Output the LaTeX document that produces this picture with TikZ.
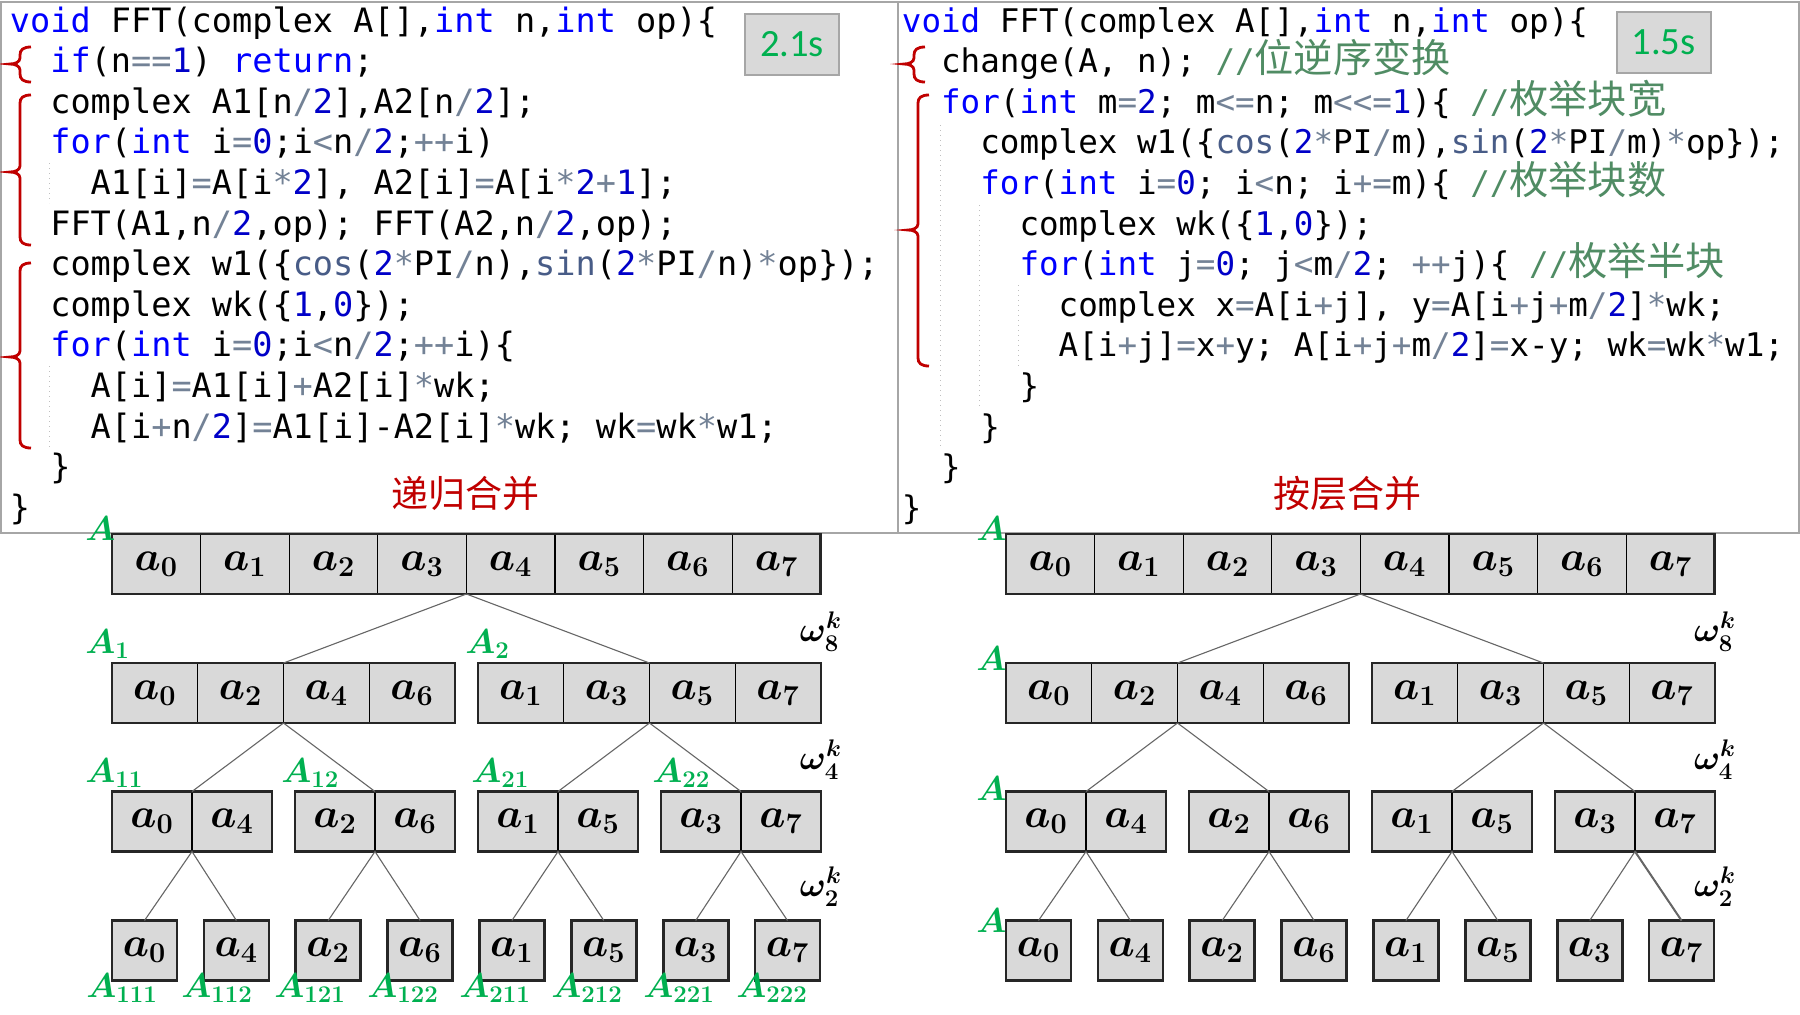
\documentclass[tikz,border=0pt]{standalone}
\usepackage{fontspec}
\setmonofont{DejaVu Sans Mono}
\newfontfamily\cjk{Noto Sans CJK SC}
\newfontfamily\calib{Carlito}
\definecolor{kw}{RGB}{0,0,255}
\definecolor{num}{RGB}{0,0,200}
\definecolor{op}{RGB}{115,130,150}
\definecolor{fn}{RGB}{72,92,135}
\definecolor{cmt}{RGB}{80,140,100}
\definecolor{brk}{RGB}{192,0,0}
\definecolor{ttlred}{RGB}{192,0,0}
\definecolor{grn}{RGB}{0,176,80}
\definecolor{cellg}{RGB}{217,217,217}
\newcommand\Kw[1]{\textcolor{kw}{#1}}
\newcommand\Nm[1]{\textcolor{num}{#1}}
\newcommand\Op[1]{\textcolor{op}{#1}}
\newcommand\Fn[1]{\textcolor{fn}{#1}}
\newcommand\Cmt[1]{\textcolor{cmt}{#1}}
\newcommand\cjkc{\cjk\fontsize{19.6}{20}\selectfont}
\newcommand\offbrace[4]{% x, top, mid, bottom
  \draw[brc] ({#1+11},#2) .. controls ({#1+3},#2) and (#1,{#2+3}) .. (#1,{#2+8})
    -- (#1,{#3-6}) .. controls (#1,{#3-2}) and ({#1-5},#3) .. ({#1-10},#3)
    .. controls ({#1-5},#3) and (#1,{#3+2}) .. (#1,{#3+6})
    -- (#1,{#4-8}) .. controls (#1,{#4-3}) and ({#1+3},#4) .. ({#1+11},#4);}
\tikzset{
 cell/.style={draw=black, line width=0.6pt, fill=cellg, inner sep=0pt, outer sep=0pt,
   minimum height=30pt, font=\boldmath\fontsize{20}{24}\selectfont},
 outb/.style={draw=black!85, line width=1.4pt},
 conn/.style={draw=black!60, line width=0.55pt},
 glab/.style={text=grn, inner sep=0pt, anchor=base west, font=\boldmath\fontsize{17.28}{20}\selectfont},
 omlab/.style={inner sep=0pt, font=\boldmath\fontsize{17.28}{20}\selectfont},
 codel/.style={anchor=base west, inner sep=0pt, font=\ttfamily\fontsize{16.78}{20}\selectfont},
 coder/.style={anchor=base west, inner sep=0pt, font=\ttfamily\fontsize{16.28}{20}\selectfont},
 brc/.style={draw=brk, line width=1.4pt},
 guide/.style={draw=black!25, line width=0.5pt, dotted},
 timebox/.style={draw=black!35, line width=1pt, fill=cellg, minimum width=47pt,
   minimum height=30.5pt, text=grn, font=\calib\fontsize{19.3}{22}\selectfont, inner sep=0pt},
 ttl/.style={text=ttlred, font=\cjk\fontsize{18.5}{22}\selectfont, inner sep=0pt},
 panel/.style={draw=black!35, line width=1pt}
}
\begin{document}
\begin{tikzpicture}[x=0.5pt,y=-0.5pt]
\useasboundingbox (0,0) rectangle (1800,1014);
\fill[white] (0,0) rectangle (1800,1014);
% panels
\draw[panel] (1,1.5) rectangle (898,533);
\draw[panel] (898,1.5) rectangle (1799,533);
% ---------------- left code
\node[codel] (cl1) at (9.5,32) {\Kw{void} FFT(complex A[],\Kw{int} n,\Kw{int} op)\{};
\node[codel] (cl2) at (49.9,72.6) {\Kw{if}(n\Op{==}\Nm{1}) \Kw{return};};
\node[codel] (cl3) at (49.9,113.2) {complex A1[n\Op{/}\Nm{2}],A2[n\Op{/}\Nm{2}];};
\node[codel] (cl4) at (49.9,153.8) {\Kw{for}(\Kw{int} i\Op{=}\Nm{0};i\Op{<}n\Op{/}\Nm{2};\Op{++}i)};
\node[codel] (cl5) at (90.3,194.4) {A1[i]\Op{=}A[i\Op{*}\Nm{2}], A2[i]\Op{=}A[i\Op{*}\Nm{2}\Op{+}\Nm{1}];};
\node[codel] (cl6) at (49.9,235) {FFT(A1,n\Op{/}\Nm{2},op); FFT(A2,n\Op{/}\Nm{2},op);};
\node[codel] (cl7) at (49.9,275.6) {complex w1(\{\Fn{cos}(\Nm{2}\Op{*}PI\Op{/}n),\Fn{sin}(\Nm{2}\Op{*}PI\Op{/}n)\Op{*}op\});};
\node[codel] (cl8) at (49.9,316.2) {complex wk(\{\Nm{1},\Nm{0}\});};
\node[codel] (cl9) at (49.9,356.8) {\Kw{for}(\Kw{int} i\Op{=}\Nm{0};i\Op{<}n\Op{/}\Nm{2};\Op{++}i)\{};
\node[codel] (cl10) at (90.3,397.4) {A[i]\Op{=}A1[i]\Op{+}A2[i]\Op{*}wk;};
\node[codel] (cl11) at (90.3,438) {A[i\Op{+}n\Op{/}\Nm{2}]\Op{=}A1[i]-A2[i]\Op{*}wk; wk\Op{=}wk\Op{*}w1;};
\node[codel] (cl12) at (49.9,478.6) {\}};
\node[codel] (cl13) at (9.5,519.2) {\}};
\draw[guide] (49,163) -- (49,203);
\draw[guide] (49,366) -- (49,448);
\offbrace{20}{47}{64}{82}
\offbrace{20}{95}{172}{245}
\offbrace{20}{263}{357}{448}
\node[timebox] (t1) at (792,44) {2.1s};
\node[ttl] (ttl1) at (465,494) {递归合并};
% ---------------- right code
\node[coder] (cr1) at (901.5,32) {\Kw{void} FFT(complex A[],\Kw{int} n,\Kw{int} op)\{};
\node[coder] (cr2) at (940.7,72.6) {change(A, n); \Cmt{//{\cjkc 位逆序变换}}};
\node[coder] (cr3) at (940.7,113.2) {\Kw{for}(\Kw{int} m\Op{=}\Nm{2}; m\Op{<=}n; m\Op{<\kern0pt<=}\Nm{1})\{ \Cmt{//{\cjkc 枚举块宽}}};
\node[coder] (cr4) at (979.9,153.8) {complex w1(\{\Fn{cos}(\Nm{2}\Op{*}PI\Op{/}m),\Fn{sin}(\Nm{2}\Op{*}PI\Op{/}m)\Op{*}op\});};
\node[coder] (cr5) at (979.9,194.4) {\Kw{for}(\Kw{int} i\Op{=}\Nm{0}; i\Op{<}n; i\Op{+=}m)\{ \Cmt{//{\cjkc 枚举块数}}};
\node[coder] (cr6) at (1019.1,235) {complex wk(\{\Nm{1},\Nm{0}\});};
\node[coder] (cr7) at (1019.1,275.6) {\Kw{for}(\Kw{int} j\Op{=}\Nm{0}; j\Op{<}m\Op{/}\Nm{2}; \Op{++}j)\{ \Cmt{//{\cjkc 枚举半块}}};
\node[coder] (cr8) at (1058.3,316.2) {complex x\Op{=}A[i\Op{+}j], y\Op{=}A[i\Op{+}j\Op{+}m\Op{/}\Nm{2}]\Op{*}wk;};
\node[coder] (cr9) at (1058.3,356.8) {A[i\Op{+}j]\Op{=}x\Op{+}y; A[i\Op{+}j\Op{+}m\Op{/}\Nm{2}]\Op{=}x-y; wk\Op{=}wk\Op{*}w1;};
\node[coder] (cr10) at (1019.1,397.4) {\}};
\node[coder] (cr11) at (979.9,438) {\}};
\node[coder] (cr12) at (940.7,478.6) {\}};
\node[coder] (cr13) at (901.5,519.2) {\}};
\draw[guide] (940,125) -- (940,448);
\draw[guide] (979,205) -- (979,406);
\draw[guide] (1018,285) -- (1018,366);
\offbrace{914}{47}{64}{82}
\offbrace{918}{95}{230}{366}
\node[timebox] (t2) at (1663.5,42) {1.5s};
\node[ttl] (ttl2) at (1347,494) {按层合并};
% ---------------- trees
\foreach \s/\dx in {L/0,R/894}{
\begin{scope}[shift={(\dx,0)}]
  \foreach \i in {0,...,7}
    \node[cell, minimum width=44.3pt] (\s1-\i) at ({112+88.6*(\i+0.5)},564) {$a_{\i}$};
  \draw[outb] (\s1-0.north west) rectangle (\s1-7.south east);
  \foreach \x/\v [count=\i from 0] in {154.9/0,240.6/2,326.4/4,412.1/6,520.9/1,606.6/3,692.4/5,778.1/7}
    \node[cell, minimum width=42.9pt] (\s2-\i) at (\x,693) {$a_{\v}$};
  \draw[outb] (\s2-0.north west) rectangle (\s2-3.south east);
  \draw[outb] (\s2-4.north west) rectangle (\s2-7.south east);
  \foreach \x/\v [count=\i from 0] in {152/0,232/4,335/2,415/6,518/1,598/5,701/3,781/7}
    \node[cell, minimum width=40pt] (\s3-\i) at (\x,821.5) {$a_{\v}$};
  \foreach \a/\b in {0/1,2/3,4/5,6/7}
    \draw[outb] (\s3-\a.north west) rectangle (\s3-\b.south east);
  \foreach \x/\v [count=\i from 0] in {144.5/0,236.4/4,328.2/2,420.1/6,511.9/1,603.8/5,695.7/3,787.5/7}
    \node[cell, minimum width=32.5pt, line width=1.4pt, draw=black!85] (\s4-\i) at (\x,950.5) {$a_{\v}$};
  % connectors
  \draw[conn] (\s1-3.south east) -- (\s2-1.north east);
  \draw[conn] (\s1-3.south east) -- (\s2-5.north east);
  \draw[conn] (\s2-1.south east) -- (\s3-0.north east);
  \draw[conn] (\s2-1.south east) -- (\s3-2.north east);
  \draw[conn] (\s2-5.south east) -- (\s3-4.north east);
  \draw[conn] (\s2-5.south east) -- (\s3-6.north east);
  \foreach \g/\p/\q in {0/0/1,2/2/3,4/4/5,6/6/7}{
    \draw[conn] (\s3-\g.south east) -- (\s4-\p.north);
    \draw[conn] (\s3-\g.south east) -- (\s4-\q.north);
  }
  \node[omlab] (\s w8) at (821,632) {$\omega_8^k$};
  \node[omlab] (\s w4) at (821,760) {$\omega_4^k$};
  \node[omlab] (\s w2) at (821,887) {$\omega_2^k$};
\end{scope}
}
\draw[conn, line width=1pt] (R3-6.south east) -- (R4-7.north);
% green labels, left tree
\node[glab] (gA) at (85,540) {$A$};
\node[glab] (gA1) at (85,653) {$A_1$};
\node[glab] (gA2) at (465,653) {$A_2$};
\node[glab] (gA11) at (85,782) {$A_{11}$};
\node[glab] (gA12) at (281,782) {$A_{12}$};
\node[glab] (gA21) at (471,782) {$A_{21}$};
\node[glab] (gA22) at (652,782) {$A_{22}$};
\foreach \x/\t in {86/111,181/112,274/121,367/122,459/211,551/212,643/221,736/222}
  \node[glab] (gA\t) at (\x,997) {$A_{\t}$};
% green labels, right tree
\node[glab] (rA1) at (976,540) {$A$};
\node[glab] (rA2) at (976,670) {$A$};
\node[glab] (rA3) at (976,800) {$A$};
\node[glab] (rA4) at (976,932) {$A$};
\end{tikzpicture}
\end{document}
